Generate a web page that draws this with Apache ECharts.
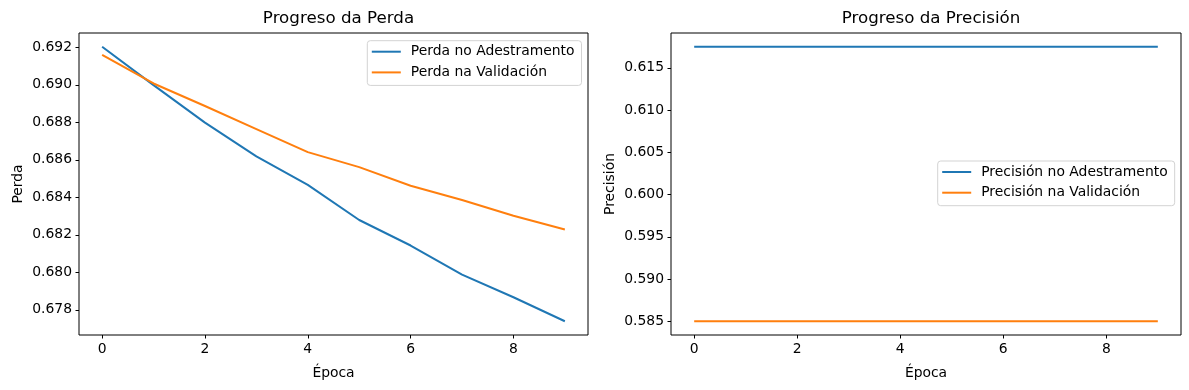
<!DOCTYPE html>
<html>
<head>
<meta charset="utf-8">
<script src="https://cdn.jsdelivr.net/npm/echarts@6/dist/echarts.min.js"></script>
<style>
html,body{margin:0;padding:0;background:#fff;}
#chart{width:1189px;height:390px;}
</style>
</head>
<body>
<div id="chart"></div>
<script>
// ---- data ----
const epochs = [0, 1, 2, 3, 4, 5, 6, 7, 8, 9];
const trainLoss = [0.69203, 0.68998, 0.68798, 0.68618, 0.68466, 0.68279, 0.68143, 0.67988, 0.67867, 0.67739];
const valLoss   = [0.69159, 0.69007, 0.68887, 0.68764, 0.68641, 0.68561, 0.68462, 0.68386, 0.68302, 0.68228];
const trainAcc  = [0.6175, 0.6175, 0.6175, 0.6175, 0.6175, 0.6175, 0.6175, 0.6175, 0.6175, 0.6175];
const valAcc    = [0.585, 0.585, 0.585, 0.585, 0.585, 0.585, 0.585, 0.585, 0.585, 0.585];
const xTicks = [0, 2, 4, 6, 8];
const lossTicks = [0.678, 0.680, 0.682, 0.684, 0.686, 0.688, 0.690, 0.692];
const accTicks = [0.585, 0.590, 0.595, 0.600, 0.605, 0.610, 0.615];
const titles = ['Progreso da Perda', 'Progreso da Precisión'];
const yNames = ['Perda', 'Precisión'];
const xName = 'Época';
const names = ['Perda no Adestramento', 'Perda na Validación', 'Precisión no Adestramento', 'Precisión na Validación'];

// ---- helpers ----
const FONT = 'DejaVu Sans';
const C1 = '#1f77b4', C2 = '#ff7f0e';
function pairs(ys) { return epochs.map((e, i) => [e, ys[i]]); }
function padRange(arrs) {
  const all = [].concat(...arrs);
  const mn = Math.min(...all), mx = Math.max(...all);
  const m = (mx - mn) * 0.05;
  return [mn - m, mx + m];
}
const xm = (epochs[epochs.length - 1] - epochs[0]) * 0.05;
const xr = [epochs[0] - xm, epochs[epochs.length - 1] + xm];
const lr = padRange([trainLoss, valLoss]);
const ar = padRange([trainAcc, valAcc]);

function xAxis(gi) {
  return {
    type: 'value', gridIndex: gi, min: xr[0], max: xr[1], position: 'bottom',
    name: xName, nameLocation: 'middle', nameGap: 31,
    nameTextStyle: { fontFamily: FONT, fontSize: 13.9, color: '#000' },
    axisLine: { show: false, onZero: false },
    splitLine: { show: false },
    axisTick: { show: true, length: 3.5, inside: false, customValues: xTicks, lineStyle: { color: '#000', width: 1 } },
    axisLabel: { customValues: xTicks, margin: 7, fontFamily: FONT, fontSize: 13.9, color: '#000', formatter: v => String(v) }
  };
}
function yAxis(gi, r, ticks) {
  return {
    type: 'value', gridIndex: gi, min: r[0], max: r[1], position: 'left',
    name: yNames[gi], nameLocation: 'middle', nameGap: 54,
    nameTextStyle: { fontFamily: FONT, fontSize: 13.9, color: '#000' },
    axisLine: { show: false, onZero: false },
    splitLine: { show: false },
    axisTick: { show: true, length: 3.5, inside: false, customValues: ticks, lineStyle: { color: '#000', width: 1 } },
    axisLabel: { customValues: ticks, margin: 7, fontFamily: FONT, fontSize: 13.9, color: '#000', formatter: v => v.toFixed(3) }
  };
}
function legend(left, top, data) {
  return {
    orient: 'vertical', left: left, top: top, data: data,
    icon: 'rect', itemWidth: 29, itemHeight: 2, itemGap: 6.7,
    padding: [4, 7, 6, 4.5],
    backgroundColor: '#fff', borderColor: '#d3d3d3', borderWidth: 1, borderRadius: 3,
    selectedMode: false,
    textStyle: { fontFamily: FONT, fontSize: 13.9, color: '#000', lineHeight: 14, padding: [0, 0, 0, 5] }
  };
}
function line(name, gi, ys, color) {
  return {
    name: name, type: 'line', xAxisIndex: gi, yAxisIndex: gi,
    data: pairs(ys), symbol: 'none', smooth: false, animation: false,
    lineStyle: { color: color, width: 2 }, itemStyle: { color: color }
  };
}

const chart = echarts.init(document.getElementById('chart'), null, { renderer: 'canvas' });
chart.setOption({
  animation: false,
  backgroundColor: '#fff',
  title: [
    { text: titles[0], left: 333.5, top: 5, textAlign: 'center', textStyle: { fontFamily: FONT, fontSize: 16.7, fontWeight: 'normal', color: '#000' } },
    { text: titles[1], left: 926, top: 5, textAlign: 'center', textStyle: { fontFamily: FONT, fontSize: 16.7, fontWeight: 'normal', color: '#000' } }
  ],
  grid: [
    { left: 79, top: 33, width: 509, height: 302, show: true, borderColor: '#000', borderWidth: 1, backgroundColor: 'transparent' },
    { left: 671, top: 33, width: 510, height: 302, show: true, borderColor: '#000', borderWidth: 1, backgroundColor: 'transparent' }
  ],
  xAxis: [xAxis(0), xAxis(1)],
  yAxis: [yAxis(0, lr, lossTicks), yAxis(1, ar, accTicks)],
  legend: [
    legend(367.3, 40.7, [names[0], names[1]]),
    legend(937.7, 161, [names[2], names[3]])
  ],
  series: [
    line(names[0], 0, trainLoss, C1),
    line(names[1], 0, valLoss, C2),
    line(names[2], 1, trainAcc, C1),
    line(names[3], 1, valAcc, C2)
  ]
});
</script>
</body>
</html>
